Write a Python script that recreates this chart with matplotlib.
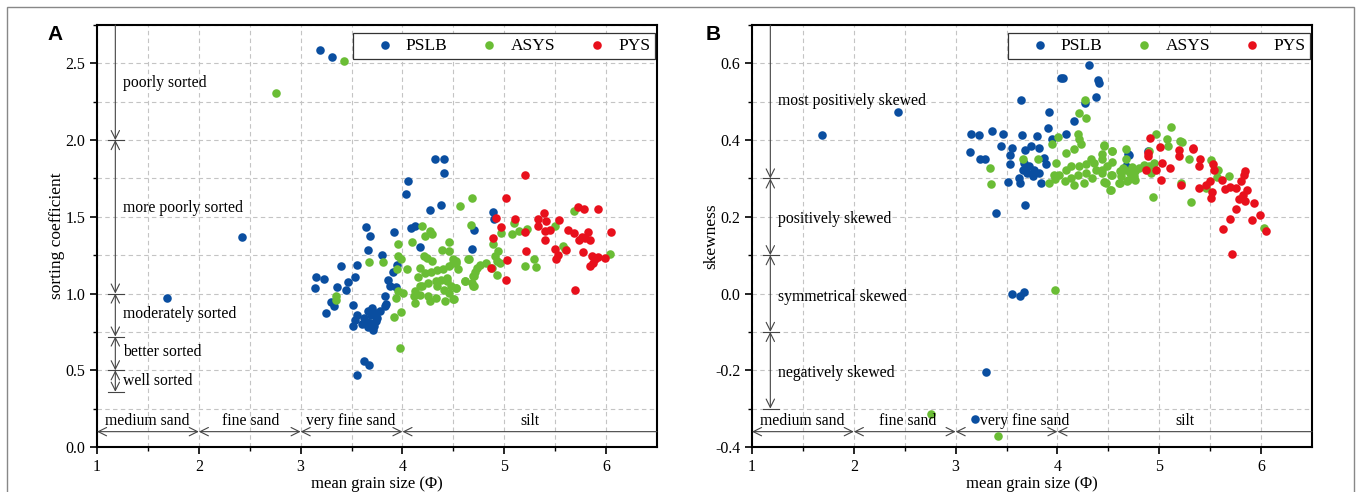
import matplotlib
matplotlib.use('Agg')
import matplotlib.pyplot as plt
from matplotlib.patches import Rectangle
import numpy as np

plt.rcParams['font.family'] = ['Liberation Serif', 'DejaVu Serif']

# colours of the three groups
c_pslb = '#0a4ea0'
c_asys = '#6abd35'
c_pys = '#e8101c'

# ---------------- panel A: mean grain size vs sorting coefficient ----------------
a_pslb_x = [3.19, 3.31, 1.69, 2.42, 4.32, 4.41, 4.41, 4.05, 4.03, 4.38, 4.27, 3.64, 3.68, 3.92,
            4.08, 4.12, 4.17, 3.66, 3.80, 3.40, 3.55, 3.95, 3.91, 3.15, 3.23, 3.14, 3.53, 3.47,
            3.36, 3.45, 3.86, 3.88, 3.94, 3.30, 3.33, 3.25, 3.51, 3.83, 3.84, 3.70, 3.78, 3.55,
            3.62, 3.69, 3.75, 3.53, 3.51, 3.68, 3.72, 3.71, 3.65, 3.74, 3.66, 3.83, 3.60, 3.74,
            3.66, 3.62, 3.67, 3.55, 4.68, 4.70, 4.89, 4.90]
a_pslb_y = [2.585, 2.54, 0.97, 1.367, 1.874, 1.874, 1.783, 1.735, 1.65, 1.574, 1.546, 1.435, 1.376,
            1.40, 1.426, 1.439, 1.302, 1.283, 1.25, 1.18, 1.185, 1.185, 1.139, 1.111, 1.096, 1.039,
            1.111, 1.074, 1.041, 1.026, 1.091, 1.048, 1.041, 0.946, 0.92, 0.874, 0.928, 0.983, 0.933,
            0.904, 0.883, 0.863, 0.841, 0.857, 0.841, 0.83, 0.791, 0.809, 0.787, 0.765, 0.813, 0.874,
            0.885, 0.917, 0.80, 0.82, 0.78, 0.559, 0.537, 0.467, 1.291, 1.417, 1.532, 1.484]

a_asys_x = [2.76, 3.43, 4.68, 4.57, 4.67, 4.19, 4.27, 4.29, 4.22, 3.96, 4.09, 4.46, 4.39, 4.46,
            3.96, 3.99, 4.21, 4.24, 4.29, 3.67, 3.81, 4.04, 3.95, 4.17, 4.15, 4.22, 4.28, 4.34,
            4.40, 4.46, 4.50, 4.53, 4.55, 4.64, 4.73, 4.69, 4.68, 4.61, 4.69, 4.19, 4.25, 4.33,
            4.38, 4.44, 4.34, 4.41, 4.48, 4.53, 4.12, 4.11, 4.17, 4.25, 4.27, 4.33, 4.42, 4.46,
            4.51, 3.96, 4.01, 4.12, 3.94, 3.35, 3.35, 3.99, 3.92, 3.98, 4.17, 4.50, 4.53, 4.65,
            4.89, 4.94, 4.91, 4.97, 5.08, 5.14, 5.22, 5.10, 4.76, 4.82, 4.93, 4.96, 4.93, 4.88,
            4.71, 4.70, 4.61, 4.70, 4.53, 4.50, 4.44, 5.20, 5.31, 5.29, 5.50, 5.58, 5.60, 5.68,
            6.04]
a_asys_y = [2.31, 2.515, 1.62, 1.57, 1.448, 1.437, 1.407, 1.391, 1.374, 1.326, 1.335, 1.335, 1.287,
            1.276, 1.243, 1.222, 1.243, 1.233, 1.211, 1.207, 1.207, 1.161, 1.157, 1.167, 1.107,
            1.135, 1.139, 1.152, 1.157, 1.178, 1.20, 1.211, 1.157, 1.226, 1.167, 1.117, 1.07, 1.08,
            1.052, 1.052, 1.07, 1.08, 1.091, 1.08, 1.048, 1.026, 1.048, 1.037, 1.015, 0.983, 0.993,
            0.983, 0.95, 0.972, 0.95, 1.004, 0.965, 1.015, 1.004, 0.939, 0.972, 0.983, 0.961, 0.88,
            0.848, 0.646, 1.052, 1.222, 1.20, 1.226, 1.324, 1.28, 1.243, 1.395, 1.391, 1.407, 1.422,
            1.457, 1.189, 1.196, 1.211, 1.20, 1.124, 1.167, 1.139, 1.113, 1.08, 1.052, 1.037, 0.965,
            1.102, 1.178, 1.174, 1.222, 1.439, 1.309, 1.291, 1.541, 1.259]

a_pys_x = [5.20, 5.02, 4.92, 4.97, 4.89, 5.11, 5.20, 5.03, 4.87, 5.02, 5.21, 5.33, 5.39, 5.41,
           5.54, 5.33, 5.40, 5.45, 5.40, 5.50, 5.53, 5.51, 5.61, 5.63, 5.68, 5.73, 5.76, 5.82,
           5.84, 5.79, 5.77, 5.72, 5.78, 5.92, 6.05, 5.86, 5.89, 5.84, 5.92, 5.99, 5.87, 5.69]
a_pys_y = [1.77, 1.622, 1.493, 1.433, 1.359, 1.487, 1.402, 1.22, 1.165, 1.087, 1.274, 1.489, 1.522,
           1.47, 1.48, 1.443, 1.407, 1.413, 1.352, 1.291, 1.254, 1.222, 1.287, 1.411, 1.396, 1.352,
           1.37, 1.40, 1.352, 1.363, 1.272, 1.565, 1.554, 1.548, 1.404, 1.243, 1.222, 1.178, 1.239,
           1.233, 1.20, 1.024]

# ---------------- panel B: mean grain size vs skewness ----------------
b_pslb_x = [1.69, 2.43, 4.31, 4.03, 4.05, 4.40, 4.41, 4.38, 3.64, 4.27, 3.92, 4.16, 3.91, 3.15,
            3.23, 3.36, 3.47, 3.65, 3.80, 3.95, 4.08, 3.14, 3.24, 3.29, 3.45, 3.55, 3.53, 3.68,
            3.74, 3.82, 3.87, 3.53, 3.51, 3.62, 3.63, 3.67, 3.72, 3.77, 3.70, 3.76, 3.82, 3.89,
            3.84, 3.66, 3.68, 3.40, 4.69, 4.67, 4.70, 4.89, 3.55, 3.63, 3.67, 3.30, 3.19]
b_pslb_y = [0.414, 0.472, 0.597, 0.563, 0.563, 0.557, 0.55, 0.513, 0.504, 0.497, 0.473, 0.45, 0.432,
            0.417, 0.414, 0.423, 0.417, 0.412, 0.41, 0.403, 0.417, 0.369, 0.351, 0.351, 0.384, 0.379,
            0.36, 0.373, 0.384, 0.38, 0.354, 0.337, 0.292, 0.302, 0.289, 0.341, 0.332, 0.323, 0.315,
            0.306, 0.315, 0.337, 0.289, 0.322, 0.23, 0.21, 0.365, 0.332, 0.361, 0.372, -0.001,
            -0.007, 0.005, -0.205, -0.328]

b_asys_x = [3.98, 2.76, 3.42, 4.27, 4.21, 4.28, 4.01, 4.20, 4.21, 4.23, 4.16, 3.95, 3.99, 4.08,
            3.66, 3.81, 3.34, 3.35, 3.92, 3.97, 4.02, 4.08, 4.13, 4.21, 4.28, 4.36, 4.44, 4.54,
            4.46, 4.33, 4.38, 4.44, 4.54, 4.62, 4.64, 4.73, 4.13, 4.16, 4.26, 4.34, 4.46, 4.52,
            4.60, 4.68, 4.75, 4.28, 4.20, 4.07, 3.98, 5.12, 4.97, 5.08, 5.20, 5.22, 5.09, 4.46,
            4.54, 4.67, 4.67, 4.44, 4.54, 4.49, 4.44, 4.53, 4.61, 4.66, 4.71, 4.76, 4.80, 4.85,
            4.90, 4.76, 4.69, 4.61, 4.48, 4.53, 4.92, 4.95, 4.90, 4.94, 5.29, 5.21, 5.31, 5.46,
            5.51, 5.58, 5.57, 5.68, 6.03]
b_asys_y = [0.008, -0.313, -0.372, 0.504, 0.471, 0.458, 0.409, 0.415, 0.402, 0.391, 0.376, 0.389,
            0.341, 0.367, 0.35, 0.35, 0.328, 0.286, 0.289, 0.31, 0.31, 0.323, 0.332, 0.332, 0.337,
            0.341, 0.35, 0.371, 0.384, 0.35, 0.323, 0.315, 0.308, 0.306, 0.328, 0.33, 0.302, 0.284,
            0.289, 0.302, 0.29, 0.27, 0.289, 0.293, 0.306, 0.315, 0.31, 0.293, 0.299, 0.435, 0.417,
            0.403, 0.397, 0.395, 0.384, 0.386, 0.371, 0.378, 0.351, 0.363, 0.343, 0.332, 0.323,
            0.31, 0.319, 0.323, 0.315, 0.319, 0.328, 0.334, 0.332, 0.296, 0.296, 0.289, 0.289,
            0.27, 0.315, 0.341, 0.371, 0.252, 0.35, 0.289, 0.238, 0.276, 0.347, 0.322, 0.304,
            0.306, 0.171]

b_pys_x = [4.91, 5.01, 4.89, 4.89, 4.87, 4.97, 5.03, 5.02, 5.11, 5.19, 5.19, 5.33, 5.33, 5.40,
           5.39, 5.21, 5.39, 5.46, 5.50, 5.52, 5.51, 5.53, 5.54, 5.62, 5.65, 5.69, 5.75, 5.80,
           5.83, 5.84, 5.86, 5.82, 5.78, 5.84, 5.93, 5.75, 5.69, 5.63, 5.91, 5.99, 6.05, 5.71]
b_pys_y = [0.406, 0.382, 0.367, 0.358, 0.323, 0.321, 0.341, 0.296, 0.328, 0.374, 0.358, 0.38, 0.378,
           0.351, 0.332, 0.284, 0.276, 0.284, 0.293, 0.264, 0.25, 0.337, 0.322, 0.296, 0.273, 0.278,
           0.276, 0.293, 0.308, 0.319, 0.271, 0.256, 0.247, 0.241, 0.237, 0.221, 0.195, 0.167,
           0.191, 0.204, 0.163, 0.102]

# class boundaries and labels
grain_bounds = [2, 3, 4]
grain_names = ['medium sand', 'fine sand', 'very fine sand', 'silt']
a_grain_pos = [1.49, 2.51, 3.49, 5.25]
b_grain_pos = [1.49, 2.53, 3.68, 5.25]

sort_bounds = [2.0, 1.0, 0.72, 0.5, 0.36]
sort_names = ['poorly sorted', 'more poorly sorted', 'moderately sorted', 'better sorted', 'well sorted']
sort_pos = [2.37, 1.56, 0.866, 0.616, 0.432]

skew_bounds = [0.3, 0.1, -0.1, -0.3]
skew_names = ['most positively skewed', 'positively skewed', 'symmetrical skewed', 'negatively skewed']
skew_pos = [0.503, 0.195, -0.01, -0.207]

fig = plt.figure(figsize=(13.57, 4.92), dpi=100)
ax_a = fig.add_axes([97 / 1357, 45 / 492, 560 / 1357, 422 / 492])
ax_b = fig.add_axes([752 / 1357, 45 / 492, 560 / 1357, 422 / 492])

# thin frame round the whole figure
fig.patches.append(Rectangle((7 / 1357, -0.05), 1347 / 1357, 1.05 - 7 / 492, transform=fig.transFigure,
                             fill=False, edgecolor='#888888', lw=1.0))

line_col = '#444444'
arr = 'head_length=0.6,head_width=0.3'


def vertical_scale(ax, xv, bounds, top):
    # top segment: arrow only at its lower end
    ax.annotate('', xy=(xv, bounds[0]), xytext=(xv, top),
                arrowprops=dict(arrowstyle='->,' + arr, color=line_col, lw=0.8, shrinkA=0, shrinkB=0))
    for lo, hi in zip(bounds[1:], bounds[:-1]):
        ax.annotate('', xy=(xv, lo), xytext=(xv, hi),
                    arrowprops=dict(arrowstyle='<->,' + arr, color=line_col, lw=0.8, shrinkA=0, shrinkB=0))
    for b in bounds:
        ax.plot([xv - 0.07, xv + 0.09], [b, b], color=line_col, lw=0.8, zorder=3)


def horizontal_scale(ax, yv, bounds, right):
    pts = [1.0] + bounds
    for lo, hi in zip(pts[:-1], pts[1:]):
        ax.annotate('', xy=(lo, yv), xytext=(hi, yv),
                    arrowprops=dict(arrowstyle='<->,' + arr, color=line_col, lw=0.8, shrinkA=0, shrinkB=0))
    ax.annotate('', xy=(bounds[-1], yv), xytext=(right, yv),
                arrowprops=dict(arrowstyle='->,' + arr, color=line_col, lw=0.8, shrinkA=0, shrinkB=0))


def style_axes(ax, ymin, ymax, ymin_step):
    ax.set_xlim(1, 6.5)
    ax.set_ylim(ymin, ymax)
    ax.set_xticks([1, 2, 3, 4, 5, 6])
    ax.set_xticks(np.arange(1.5, 6.5, 1.0), minor=True)
    ax.set_yticks(np.arange(ymin, ymax + 1e-9, ymin_step), minor=True)
    ax.grid(True, which='both', color='#c4c4c4', ls=(0, (4, 3)), lw=0.8)
    ax.set_axisbelow(True)
    for s in ax.spines.values():
        s.set_linewidth(1.5)
    ax.tick_params(which='major', direction='out', length=5, width=1.2, labelsize=11.5)
    ax.tick_params(which='minor', direction='out', length=3, width=1.0)
    ax.set_xlabel('mean grain size (Φ)', fontsize=12)
    ax.xaxis.set_label_coords(0.5, -0.068)
    ax.yaxis.set_major_formatter(matplotlib.ticker.FormatStrFormatter('%.1f'))


for ax, data in [(ax_a, (a_pslb_x, a_pslb_y, a_asys_x, a_asys_y, a_pys_x, a_pys_y)),
                 (ax_b, (b_pslb_x, b_pslb_y, b_asys_x, b_asys_y, b_pys_x, b_pys_y))]:
    ax.scatter(data[0], data[1], s=38, color=c_pslb, lw=0, label='PSLB', zorder=4)
    ax.scatter(data[2], data[3], s=38, color=c_asys, lw=0, label='ASYS', zorder=5)
    ax.scatter(data[4], data[5], s=38, color=c_pys, lw=0, label='PYS', zorder=6)
    leg = ax.legend(loc='upper right', bbox_to_anchor=(0.997, 0.982), borderaxespad=0, ncol=3,
                    fontsize=12.5, frameon=True, fancybox=False, edgecolor='#333333', framealpha=1,
                    handlelength=3.0, handletextpad=-0.29, columnspacing=0.92, borderpad=0.3,
                    markerscale=1.0)
    leg.get_frame().set_linewidth(0.9)
    leg.set_zorder(10)

# panel A decorations
style_axes(ax_a, 0, 2.75, 0.25)
ax_a.set_yticks([0, 0.5, 1.0, 1.5, 2.0, 2.5])
ax_a.set_ylabel('sorting coefficient', fontsize=12.5)
ax_a.yaxis.set_label_coords(-0.058, 0.5)
vertical_scale(ax_a, 1.18, sort_bounds, 2.75)
for name, y in zip(sort_names, sort_pos):
    ax_a.text(1.26, y, name, fontsize=11.3, va='center', ha='left', zorder=7)
horizontal_scale(ax_a, 0.1, grain_bounds, 6.5)
for name, x in zip(grain_names, a_grain_pos):
    ax_a.text(x, 0.115, name, fontsize=11.3, va='bottom', ha='center', zorder=7)

# panel B decorations
style_axes(ax_b, -0.4, 0.7, 0.1)
ax_b.set_yticks([-0.4, -0.2, 0.0, 0.2, 0.4, 0.6])
ax_b.set_ylabel('skewness', fontsize=12.5)
ax_b.yaxis.set_label_coords(-0.058, 0.5)
vertical_scale(ax_b, 1.18, skew_bounds, 0.7)
for name, y in zip(skew_names, skew_pos):
    ax_b.text(1.26, y, name, fontsize=11.3, va='center', ha='left', zorder=7)
horizontal_scale(ax_b, -0.36, grain_bounds, 6.5)
for name, x in zip(grain_names, b_grain_pos):
    ax_b.text(x, -0.354, name, fontsize=11.3, va='bottom', ha='center', zorder=7)

fig.text(47 / 1357, 1 - 35 / 492, 'A', fontsize=15, fontweight='bold', family='Liberation Sans',
         va='center', ha='left')
fig.text(706 / 1357, 1 - 35 / 492, 'B', fontsize=15, fontweight='bold', family='Liberation Sans',
         va='center', ha='left')

fig.savefig('out.png', dpi=100)
